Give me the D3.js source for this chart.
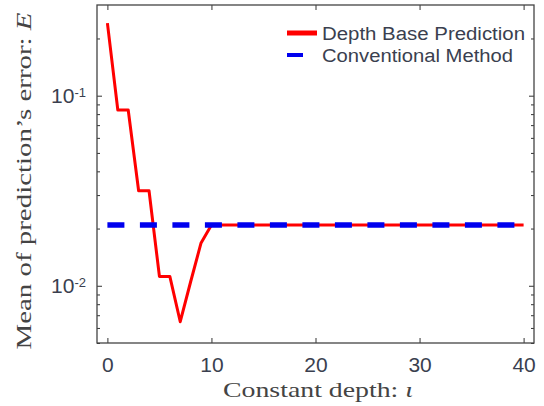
<!DOCTYPE html>
<html>
<head>
<meta charset="utf-8">
<script src="https://cdn.jsdelivr.net/npm/d3@7"></script>
<style>
  html, body { margin: 0; padding: 0; background: #fff; }
  svg { display: block; }
</style>
</head>
<body>
<div id="chart"></div>
<script>
// ---- data ----
const depths = [0,1,2,3,4,5,6,7,8,9,10,11,12,13,14,15,16,17,18,19,20,21,22,23,24,25,26,27,28,29,30,31,32,33,34,35,36,37,38,39,40];
const depthBasePrediction = [0.241,0.0841,0.0841,0.0316,0.0316,0.0112,0.0112,0.00647,0.0105,0.0168,
  0.0209,0.0209,0.0209,0.0209,0.0209,0.0209,0.0209,0.0209,0.0209,0.0209,
  0.0209,0.0209,0.0209,0.0209,0.0209,0.0209,0.0209,0.0209,0.0209,0.0209,
  0.0209,0.0209,0.0209,0.0209,0.0209,0.0209,0.0209,0.0209,0.0209,0.0209,0.0209];
const conventionalMethod = [0.0209,0.0209,0.0209,0.0209,0.0209,0.0209,0.0209,0.0209,0.0209,0.0209,
  0.0209,0.0209,0.0209,0.0209,0.0209,0.0209,0.0209,0.0209,0.0209,0.0209,
  0.0209,0.0209,0.0209,0.0209,0.0209,0.0209,0.0209,0.0209,0.0209,0.0209,
  0.0209,0.0209,0.0209,0.0209,0.0209,0.0209,0.0209,0.0209,0.0209,0.0209,0.0209];
const xTickValues = [0,10,20,30,40];
const yMajorTicks = [0.01, 0.1];
const yMajorExponents = ["2", "1"];
const yMinorTicks = [0.005,0.006,0.007,0.008,0.009,0.02,0.03,0.04,0.05,0.06,0.07,0.08,0.09,0.2];
const seriesNames = ["Depth Base Prediction", "Conventional Method"];
const xLabel = "Constant depth: ";
const xLabelSymbol = "ι";
const yLabel = "Mean of prediction’s error: ";
const yLabelSymbol = "E";

// ---- layout ----
const W = 544, H = 406;
const L = 97, R = 534, T = 5, B = 343;
const textColor = "#3a3f4f";
const sans = "'Liberation Sans', Arial, sans-serif";
const serif = "'Liberation Serif', 'Times New Roman', serif";

const svg = d3.select("#chart").append("svg").attr("width", W).attr("height", H);

const x = d3.scaleLinear().domain([-1, 41]).range([L, R]);
const y = d3.scaleLog().domain([0.005, 0.3]).range([B, T]);

// ---- lines ----
const line = d3.line().x((d, i) => x(depths[i])).y(d => y(d));
svg.append("path").datum(depthBasePrediction)
  .attr("d", line).attr("fill", "none")
  .attr("stroke", "#ff0000").attr("stroke-width", 3).attr("stroke-linejoin", "round");
svg.append("path").datum(conventionalMethod)
  .attr("d", line).attr("fill", "none")
  .attr("stroke", "#0000ee").attr("stroke-width", 5.5)
  .attr("stroke-dasharray", "17,15.5");

// ---- axes (ticks inward) ----
function styleAxis(g) {
  g.select(".domain").remove();
  g.selectAll(".tick line").attr("stroke", "#333").attr("stroke-width", 1);
}
const axB = svg.append("g").attr("transform", `translate(0,${B})`)
  .call(d3.axisBottom(x).tickValues(xTickValues).tickSize(-5).tickPadding(14).tickFormat(d3.format("d")));
styleAxis(axB);
axB.selectAll("text").attr("font-family", sans).attr("font-size", 21).attr("fill", textColor);

const axT = svg.append("g").attr("transform", `translate(0,${T})`)
  .call(d3.axisTop(x).tickValues(xTickValues).tickSize(-5).tickFormat(""));
styleAxis(axT);

const axL = svg.append("g").attr("transform", `translate(${L},0)`)
  .call(d3.axisLeft(y).tickValues(yMajorTicks).tickSize(-5).tickFormat(""));
styleAxis(axL);
const axLm = svg.append("g").attr("transform", `translate(${L},0)`)
  .call(d3.axisLeft(y).tickValues(yMinorTicks).tickSize(-3).tickFormat(""));
styleAxis(axLm);
const axR = svg.append("g").attr("transform", `translate(${R},0)`)
  .call(d3.axisRight(y).tickValues(yMajorTicks).tickSize(-5).tickFormat(""));
styleAxis(axR);
const axRm = svg.append("g").attr("transform", `translate(${R},0)`)
  .call(d3.axisRight(y).tickValues(yMinorTicks).tickSize(-3).tickFormat(""));
styleAxis(axRm);

// y tick labels 10^-n
yMajorTicks.forEach((v, i) => {
  const t = svg.append("text")
    .attr("x", 86).attr("y", y(v) + 7)
    .attr("text-anchor", "end")
    .attr("font-family", sans).attr("font-size", 21).attr("fill", textColor);
  t.append("tspan").text("10");
  t.append("tspan").attr("dy", -6).attr("font-size", 13).text("-" + yMajorExponents[i]);
});

// frame
svg.append("rect").attr("x", L).attr("y", T).attr("width", R - L).attr("height", B - T)
  .attr("fill", "none").attr("stroke", "#444").attr("stroke-width", 1.3);

// ---- axis labels ----
const xl = svg.append("text").attr("x", 318).attr("y", 397).attr("text-anchor", "middle")
  .attr("font-family", serif).attr("font-size", 22).attr("fill", "#444")
  .attr("textLength", 190).attr("lengthAdjust", "spacingAndGlyphs");
xl.append("tspan").text(xLabel);
xl.append("tspan").attr("font-style", "italic").text(xLabelSymbol);

const yl = svg.append("text").attr("transform", "translate(31,181) rotate(-90)")
  .attr("text-anchor", "middle")
  .attr("font-family", serif).attr("font-size", 22).attr("fill", "#444")
  .attr("textLength", 337).attr("lengthAdjust", "spacingAndGlyphs");
yl.append("tspan").text(yLabel);
yl.append("tspan").attr("font-style", "italic").text(yLabelSymbol);

// ---- legend ----
const lg = svg.append("g");
lg.append("line").attr("x1", 287).attr("x2", 317).attr("y1", 33).attr("y2", 33)
  .attr("stroke", "#ff0000").attr("stroke-width", 5);
lg.append("line").attr("x1", 287).attr("x2", 303).attr("y1", 55).attr("y2", 55)
  .attr("stroke", "#0000ee").attr("stroke-width", 4);
lg.append("text").attr("x", 322).attr("y", 40).text(seriesNames[0])
  .attr("font-family", sans).attr("font-size", 18).attr("fill", textColor)
  .attr("textLength", 203).attr("lengthAdjust", "spacingAndGlyphs");
lg.append("text").attr("x", 322).attr("y", 62).text(seriesNames[1])
  .attr("font-family", sans).attr("font-size", 18).attr("fill", textColor)
  .attr("textLength", 191).attr("lengthAdjust", "spacingAndGlyphs");
</script>
</body>
</html>
